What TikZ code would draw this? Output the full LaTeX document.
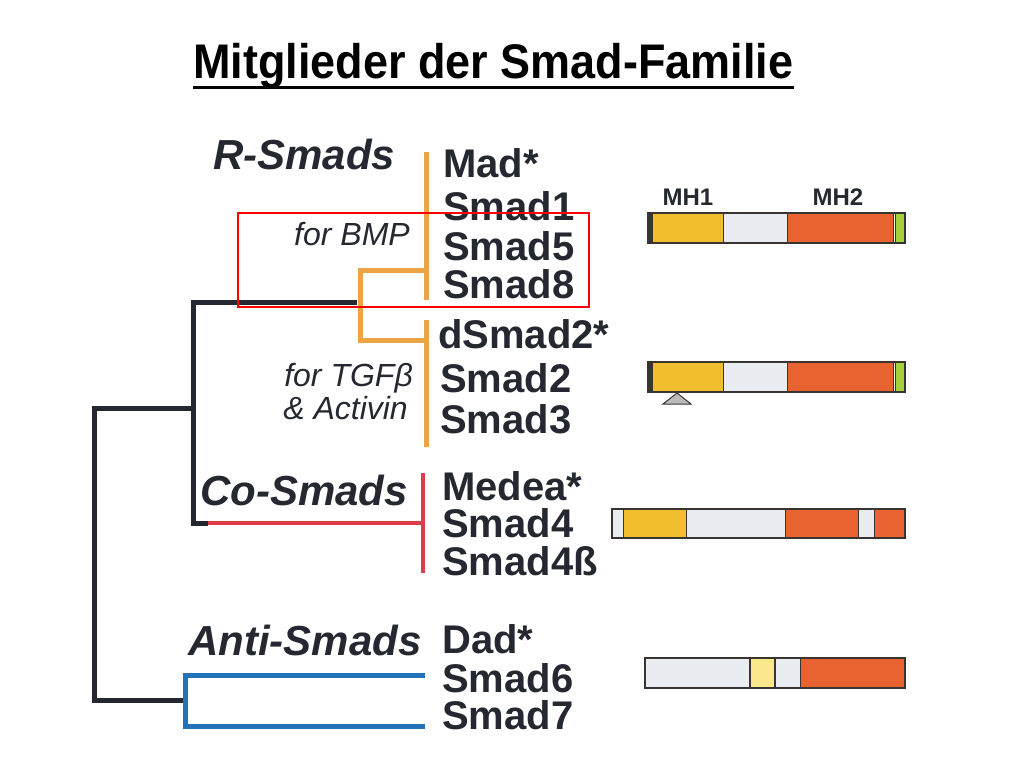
\documentclass[tikz,border=0pt]{standalone}
\usepackage{fontspec}
\setmainfont{Liberation Sans}
\definecolor{dk}{HTML}{252830}
\definecolor{orl}{HTML}{EDA444}
\definecolor{rdl}{HTML}{DE3C4B}
\definecolor{bll}{HTML}{2472B8}
\definecolor{yel}{HTML}{F3BE2D}
\definecolor{lgt}{HTML}{E9ECF0}
\definecolor{org}{HTML}{E8632F}
\definecolor{grn}{HTML}{A3D13E}
\definecolor{pyl}{HTML}{FAE98A}
\definecolor{brd}{HTML}{3A3430}
\begin{document}
\begin{tikzpicture}[x=1pt,y=-1pt,
  member/.style={anchor=base west, inner sep=0pt, text=dk, font=\fontsize{40}{40}\selectfont\bfseries},
  grp/.style={anchor=base west, inner sep=0pt, text=dk, font=\fontsize{42}{42}\selectfont\bfseries\itshape},
  ligand/.style={anchor=base east, inner sep=0pt, text=dk, font=\fontsize{32}{32}\selectfont\itshape},
  dom/.style={anchor=base, inner sep=0pt, text=dk, font=\fontsize{24}{24}\selectfont\bfseries},
  darkline/.style={draw=dk, line width=5pt},
  orline/.style={draw=orl, line width=5pt},
  redline/.style={draw=rdl, line width=4.5pt},
  blueline/.style={draw=bll, line width=5pt},
  seg/.style={draw=brd, line width=1pt},
  hilite/.style={draw=red, line width=2.5pt}
]
\useasboundingbox (0,0) rectangle (1024,768);

% title
\node[anchor=base west, inner sep=0pt, font=\fontsize{45}{45}\selectfont\bfseries, yscale=1.08] (title) at (193,78) {Mitglieder der Smad-Familie};
\draw[line width=3pt] ([yshift=-9pt]title.base west) -- ([yshift=-9pt]title.base east);

% tree coordinates
\coordinate (bmpTop) at (426,152);
\coordinate (bmpBot) at (426,300);
\coordinate (bmpJ) at (426,270);
\coordinate (tgfTop) at (426,320);
\coordinate (tgfBot) at (426,447);
\coordinate (tgfJ) at (426,340);
\coordinate (rRoot) at (360,302);
\coordinate (rJoin) at (357,302);
\coordinate (coJ) at (208,523);
\coordinate (coEnd) at (423,523);
\coordinate (coTop) at (423,473);
\coordinate (coBot) at (423,573);
\coordinate (inner) at (193,408);
\coordinate (antiJ) at (185,700);
\coordinate (anti6) at (425,675);
\coordinate (anti7) at (425,726);

% dark tree
\draw[darkline] (rJoin) -- (193,302) -- (193,523) -- (coJ);
\draw[darkline] (inner) -| (94,700) -- (antiJ);
% orange R-Smads
\draw[orline] (bmpTop) -- (bmpBot);
\draw[orline] (tgfTop) -- (tgfBot);
\draw[orline] (bmpJ) -| (rRoot) |- (tgfJ);
% red Co-Smads
\draw[redline] (coJ) -- (coEnd);
\draw[redline] (coTop) -- (coBot);
% blue Anti-Smads
\draw[blueline] (anti6) -| (antiJ) |- (anti7);

% group labels
\node[grp] (rs) at (213,169) {R-Smads};
\node[grp] (cs) at (200,505) {Co-Smads};
\node[grp] (as) at (188,655) {Anti-Smads};
\node[ligand] (bmp) at (410,245) {for BMP};
\node[ligand] (tgf) at (413,386) {for TGFβ};
\node[ligand] (act) at (408,419) {\& Activin};

% members
\node[member] (mad) at (443,177) {Mad*};
\node[member] (s1) at (443,220) {Smad1};
\node[member] (s5) at (443,260) {Smad5};
\node[member] (s8) at (443,298) {Smad8};
\node[member] (ds2) at (438,348) {dSmad2*};
\node[member] (s2) at (440,392) {Smad2};
\node[member] (s3) at (440,433) {Smad3};
\node[member] (med) at (442,500) {Medea*};
\node[member] (s4) at (442,537) {Smad4};
\node[member] (s4b) at (442,575) {Smad4ß};
\node[member] (dad) at (442,653) {Dad*};
\node[member] (s6) at (442,692) {Smad6};
\node[member] (s7) at (442,729) {Smad7};

% domain labels
\node[dom] (mh1) at (688,205) {MH1};
\node[dom] (mh2) at (838,205) {MH2};

% bar 1 and 2 (R-Smads)
\foreach \yt in {213,362}{
  \pgfmathsetmacro{\yb}{\yt+30}
  \fill[brd] (648,\yt) rectangle (652,\yb);
  \filldraw[seg, fill=yel] (652,\yt) rectangle (723,\yb);
  \filldraw[seg, fill=lgt] (723,\yt) rectangle (787,\yb);
  \filldraw[seg, fill=org] (787,\yt) rectangle (893,\yb);
  \filldraw[seg, fill=grn] (895,\yt) rectangle (904,\yb);
  \draw[brd, line width=1.5pt] (648,\yt) rectangle (905,\yb);
}
\filldraw[draw=brd, fill=gray!55, line width=1pt] (677,393) -- (663,404) -- (691,404) -- cycle;

% bar 3 (Co-Smads)
\filldraw[seg, fill=lgt] (612,509) rectangle (623,538);
\filldraw[seg, fill=yel] (623,509) rectangle (686,538);
\filldraw[seg, fill=lgt] (686,509) rectangle (785,538);
\filldraw[seg, fill=org] (785,509) rectangle (858,538);
\filldraw[seg, fill=lgt] (858,509) rectangle (874,538);
\filldraw[seg, fill=org] (874,509) rectangle (905,538);
\draw[brd, line width=1.5pt] (612,509) rectangle (905,538);

% bar 4 (Anti-Smads)
\filldraw[seg, fill=lgt] (645,658) rectangle (750,688);
\filldraw[seg, fill=lgt] (775,658) rectangle (800,688);
\filldraw[seg, fill=org] (800,658) rectangle (905,688);
\filldraw[draw=brd, line width=2pt, fill=pyl] (750,658) rectangle (775,688);
\draw[brd, line width=1.5pt] (645,658) rectangle (905,688);

% highlight box
\draw[hilite] (238,213) rectangle (589,307);
\end{tikzpicture}
\end{document}
